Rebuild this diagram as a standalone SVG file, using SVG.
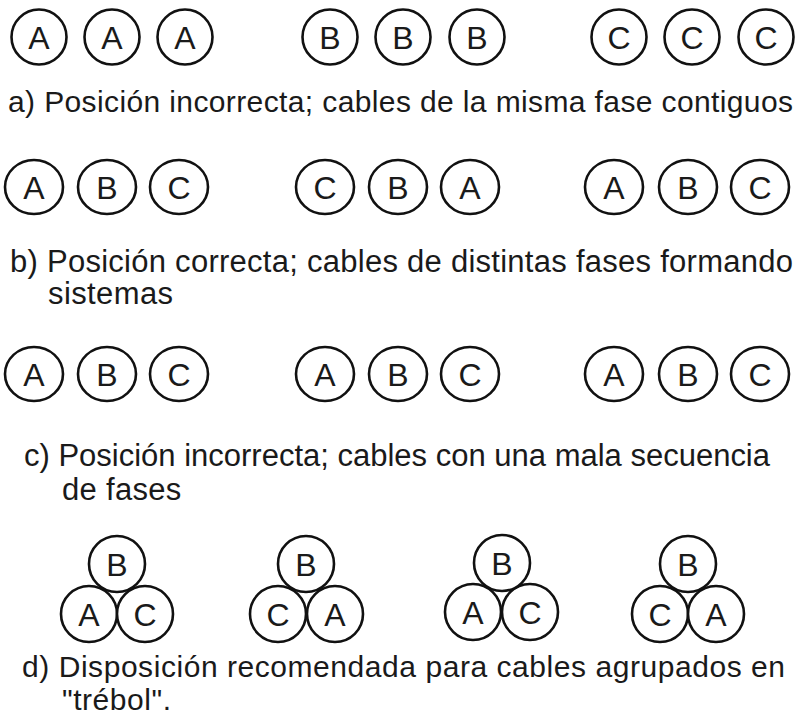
<svg xmlns="http://www.w3.org/2000/svg" width="811" height="721" viewBox="0 0 811 721">
<style>
.k circle, .k ellipse{fill:#fff;stroke:#111;stroke-width:2.6}
.k text{font-family:"Liberation Sans",Arial,sans-serif;font-size:32px;fill:#1a1a1a;text-anchor:middle}
.cap{font-family:"Liberation Sans",Arial,sans-serif;font-size:30px;fill:#1a1a1a}
.cap2{font-size:31px}
</style>
<rect width="811" height="721" fill="#fff"/>
<!-- row a -->
<g id="a1" class="k" transform="translate(39,37)"><circle r="27.5"/><text y="11.5">A</text></g>
<g id="a2" class="k" transform="translate(112,37)"><circle r="27.5"/><text y="11.5">A</text></g>
<g id="a3" class="k" transform="translate(185,37)"><circle r="27.5"/><text y="11.5">A</text></g>
<g id="a4" class="k" transform="translate(330,37)"><circle r="27.5"/><text y="11.5">B</text></g>
<g id="a5" class="k" transform="translate(403,37)"><circle r="27.5"/><text y="11.5">B</text></g>
<g id="a6" class="k" transform="translate(477,37)"><circle r="27.5"/><text y="11.5">B</text></g>
<g id="a7" class="k" transform="translate(619,37)"><circle r="27.5"/><text y="11.5">C</text></g>
<g id="a8" class="k" transform="translate(692,37)"><circle r="27.5"/><text y="11.5">C</text></g>
<g id="a9" class="k" transform="translate(766,37)"><circle r="27.5"/><text y="11.5">C</text></g>
<text id="capA" class="cap" x="8" y="112" textLength="785" lengthAdjust="spacing">a) Posición incorrecta; cables de la misma fase contiguos</text>
<!-- row b -->
<g id="b1" class="k" transform="translate(34,187)"><ellipse rx="29" ry="27"/><text y="11.5">A</text></g>
<g id="b2" class="k" transform="translate(107,187)"><ellipse rx="29" ry="27"/><text y="11.5">B</text></g>
<g id="b3" class="k" transform="translate(179,187)"><ellipse rx="29" ry="27"/><text y="11.5">C</text></g>
<g id="b4" class="k" transform="translate(325,187)"><ellipse rx="29" ry="27"/><text y="11.5">C</text></g>
<g id="b5" class="k" transform="translate(398,187)"><ellipse rx="29" ry="27"/><text y="11.5">B</text></g>
<g id="b6" class="k" transform="translate(470,187)"><ellipse rx="29" ry="27"/><text y="11.5">A</text></g>
<g id="b7" class="k" transform="translate(614,187)"><ellipse rx="29" ry="27"/><text y="11.5">A</text></g>
<g id="b8" class="k" transform="translate(688,187)"><ellipse rx="29" ry="27"/><text y="11.5">B</text></g>
<g id="b9" class="k" transform="translate(760,187)"><ellipse rx="29" ry="27"/><text y="11.5">C</text></g>
<text id="capB" class="cap cap2" x="10" y="272" textLength="783" lengthAdjust="spacing">b) Posición correcta; cables de distintas fases formando</text>
<text id="capB2" class="cap cap2" x="48" y="304" letter-spacing="0.4">sistemas</text>
<!-- row c -->
<g id="c1" class="k" transform="translate(34,374)"><ellipse rx="29" ry="27"/><text y="11.5">A</text></g>
<g id="c2" class="k" transform="translate(107,374)"><ellipse rx="29" ry="27"/><text y="11.5">B</text></g>
<g id="c3" class="k" transform="translate(179,374)"><ellipse rx="29" ry="27"/><text y="11.5">C</text></g>
<g id="c4" class="k" transform="translate(325,374)"><ellipse rx="29" ry="27"/><text y="11.5">A</text></g>
<g id="c5" class="k" transform="translate(398,374)"><ellipse rx="29" ry="27"/><text y="11.5">B</text></g>
<g id="c6" class="k" transform="translate(470,374)"><ellipse rx="29" ry="27"/><text y="11.5">C</text></g>
<g id="c7" class="k" transform="translate(614,374)"><ellipse rx="29" ry="27"/><text y="11.5">A</text></g>
<g id="c8" class="k" transform="translate(688,374)"><ellipse rx="29" ry="27"/><text y="11.5">B</text></g>
<g id="c9" class="k" transform="translate(760,374)"><ellipse rx="29" ry="27"/><text y="11.5">C</text></g>
<text id="capC" class="cap cap2" x="24" y="466" textLength="746" lengthAdjust="spacing">c) Posición incorrecta; cables con una mala secuencia</text>
<text id="capC2" class="cap cap2" x="62" y="500" letter-spacing="0.3">de fases</text>
<!-- row d trefoils -->
<g id="d1" class="k">
<g transform="translate(89,614)"><circle r="28"/><text y="11.5">A</text></g>
<g transform="translate(145,614)"><circle r="28"/><text y="11.5">C</text></g>
<g transform="translate(117,564)"><circle r="28"/><text y="11.5">B</text></g>
</g>
<g id="d2" class="k">
<g transform="translate(278,614)"><circle r="28"/><text y="11.5">C</text></g>
<g transform="translate(335,614)"><circle r="28"/><text y="11.5">A</text></g>
<g transform="translate(306,564)"><circle r="28"/><text y="11.5">B</text></g>
</g>
<g id="d3" class="k">
<g transform="translate(473,612)"><circle r="28"/><text y="11.5">A</text></g>
<g transform="translate(530,612)"><circle r="28"/><text y="11.5">C</text></g>
<g transform="translate(502,563)"><circle r="28"/><text y="11.5">B</text></g>
</g>
<g id="d4" class="k">
<g transform="translate(660,614)"><circle r="28"/><text y="11.5">C</text></g>
<g transform="translate(716,614)"><circle r="28"/><text y="11.5">A</text></g>
<g transform="translate(688,564)"><circle r="28"/><text y="11.5">B</text></g>
</g>
<text id="capD" class="cap" x="22" y="677" textLength="763" lengthAdjust="spacing">d) Disposición recomendada para cables agrupados en</text>
<text id="capD2" class="cap" x="62" y="710" letter-spacing="0.55">"trébol".</text>
</svg>
